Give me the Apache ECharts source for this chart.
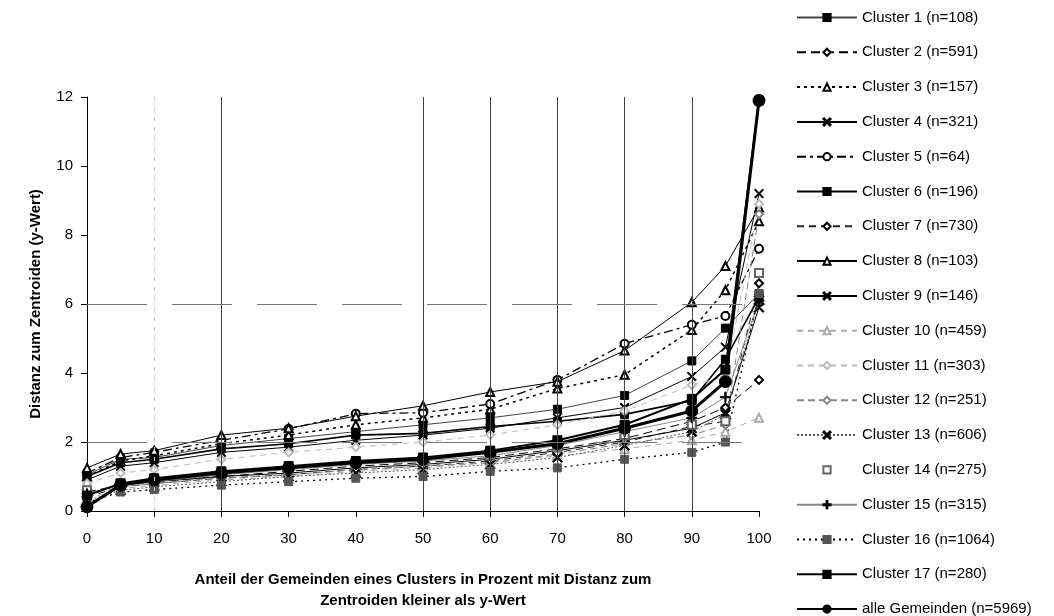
<!DOCTYPE html>
<html lang="de">
<head>
    <meta charset="UTF-8">
    <title>Distanz zum Zentroiden</title>
    <script src="https://cdn.jsdelivr.net/npm/echarts@6/dist/echarts.min.js"></script>
    <style type="text/css">
        html, body { margin: 0; padding: 0; background: #fff; }
        #chart { width: 1054px; height: 616px; }
    </style>
</head>
<body>
<div id="chart"></div>
<script type="text/javascript">
    // x: Anteil in Prozent, y: Distanz zum Zentroiden
    var xPct = [0, 5, 10, 20, 30, 40, 50, 60, 70, 80, 90, 95, 100];
    var xTicks = [0, 10, 20, 30, 40, 50, 60, 70, 80, 90, 100];
    var yTicks = [0, 2, 4, 6, 8, 10, 12];

    var cluster1  = [1.05, 1.5, 1.55, 1.9, 2.1, 2.3, 2.5, 2.7, 2.95, 3.35, 4.35, 5.3, 6.3];
    var cluster2  = [0.55, 0.75, 0.85, 1.0, 1.15, 1.3, 1.4, 1.55, 1.8, 2.1, 2.6, 3.0, 3.8];
    var cluster3  = [1.0, 1.45, 1.6, 1.95, 2.2, 2.5, 2.7, 2.95, 3.55, 3.95, 5.25, 6.4, 8.4];
    var cluster4  = [0.9, 1.3, 1.4, 1.7, 1.85, 2.05, 2.2, 2.4, 2.7, 3.0, 3.9, 4.75, 9.2];
    var cluster5  = [1.1, 1.55, 1.7, 2.05, 2.38, 2.82, 2.85, 3.1, 3.8, 4.85, 5.4, 5.65, 7.6];
    var cluster6  = [1.0, 1.4, 1.5, 1.8, 1.95, 2.2, 2.25, 2.45, 2.6, 2.8, 3.2, 4.4, 6.2];
    var cluster7  = [0.4, 0.7, 0.8, 0.95, 1.05, 1.2, 1.3, 1.45, 1.7, 2.0, 2.45, 2.6, 6.6];
    var cluster8  = [1.25, 1.65, 1.75, 2.2, 2.4, 2.75, 3.05, 3.45, 3.75, 4.65, 6.05, 7.1, 8.8];
    var cluster9  = [0.5, 0.75, 0.85, 1.0, 1.1, 1.25, 1.35, 1.5, 1.75, 2.05, 2.4, 2.85, 5.9];
    var cluster10 = [0.35, 0.65, 0.75, 0.9, 1.0, 1.15, 1.25, 1.4, 1.6, 1.8, 2.05, 2.3, 2.7];
    var cluster11 = [0.8, 1.1, 1.2, 1.5, 1.7, 1.85, 2.0, 2.2, 2.5, 2.9, 3.65, 3.9, 8.9];
    var cluster12 = [0.45, 0.7, 0.8, 0.95, 1.05, 1.2, 1.3, 1.4, 1.65, 1.95, 2.2, 2.5, 8.6];
    var cluster13 = [0.3, 0.6, 0.7, 0.85, 1.0, 1.1, 1.2, 1.35, 1.55, 1.9, 2.3, 2.8, 6.1];
    var cluster14 = [0.6, 0.8, 0.9, 1.05, 1.2, 1.35, 1.45, 1.6, 1.85, 2.2, 2.5, 2.6, 6.9];
    var cluster15 = [0.5, 0.75, 0.85, 1.05, 1.2, 1.35, 1.45, 1.6, 1.9, 2.3, 2.7, 3.3, 6.1];
    var cluster16 = [0.25, 0.55, 0.62, 0.75, 0.85, 0.95, 1.0, 1.15, 1.25, 1.5, 1.7, 2.0, 6.3];
    var cluster17 = [0.45, 0.8, 0.95, 1.15, 1.3, 1.45, 1.55, 1.75, 2.05, 2.5, 3.25, 4.1, 11.9];
    var alleGem   = [0.12, 0.75, 0.9, 1.1, 1.25, 1.4, 1.5, 1.7, 1.95, 2.4, 2.9, 3.75, 11.9];

    var gridX = [10, 20, 50, 60, 70, 80, 90];
    var gridY = [2, 6];

    var X_PATH = 'path://M0,1L1,0L5,4L9,0L10,1L6,5L10,9L9,10L5,6L1,10L0,9L4,5Z';
    var PLUS_PATH = 'path://M4.4,0H5.6V4.4H10V5.6H5.6V10H4.4V5.6H0V4.4H4.4Z';
    var FONT = '"Liberation Sans", Arial, sans-serif';

    function mk(name, vals, o) {
        var pts = [];
        for (var i = 0; i < xPct.length; i++) {
            pts.push([xPct[i], vals[i]]);
        }
        return {
            type: 'line',
            name: name,
            data: pts,
            z: 3,
            symbol: o.symbol,
            symbolSize: o.size || 8,
            showAllSymbol: true,
            itemStyle: {color: o.mColor || '#000', borderColor: o.mColor || '#000', borderWidth: 1},
            lineStyle: {color: o.color || '#000', width: o.width === undefined ? 1 : o.width, type: o.type || 'solid', opacity: o.noLine ? 0 : 1},
            emphasis: {disabled: true}
        };
    }

    var series = [
        mk('Cluster 1 (n=108)', cluster1, {symbol: 'rect', color: '#444'}),
        mk('Cluster 2 (n=591)', cluster2, {symbol: 'emptyDiamond', type: [9, 5]}),
        mk('Cluster 3 (n=157)', cluster3, {symbol: 'emptyTriangle', type: [3, 4], width: 1.5}),
        mk('Cluster 4 (n=321)', cluster4, {symbol: X_PATH, size: 9}),
        mk('Cluster 5 (n=64)', cluster5, {symbol: 'emptyCircle', type: [9, 4, 3, 4], width: 1.3}),
        mk('Cluster 6 (n=196)', cluster6, {symbol: 'rect', width: 1.6}),
        mk('Cluster 7 (n=730)', cluster7, {symbol: 'emptyDiamond', type: [7, 5], color: '#222'}),
        mk('Cluster 8 (n=103)', cluster8, {symbol: 'emptyTriangle'}),
        mk('Cluster 9 (n=146)', cluster9, {symbol: X_PATH, size: 10}),
        mk('Cluster 10 (n=459)', cluster10, {symbol: 'emptyTriangle', type: [6, 5], color: '#aaa', mColor: '#aaa'}),
        mk('Cluster 11 (n=303)', cluster11, {symbol: 'emptyDiamond', type: [6, 5], color: '#bbb', mColor: '#bbb'}),
        mk('Cluster 12 (n=251)', cluster12, {symbol: 'emptyDiamond', type: [7, 4], color: '#888', mColor: '#888'}),
        mk('Cluster 13 (n=606)', cluster13, {symbol: X_PATH, size: 10, type: [2, 2], color: '#555'}),
        mk('Cluster 14 (n=275)', cluster14, {symbol: 'emptyRect', mColor: '#666', noLine: true, width: 0}),
        mk('Cluster 15 (n=315)', cluster15, {symbol: PLUS_PATH, size: 10, color: '#888'}),
        mk('Cluster 16 (n=1064)', cluster16, {symbol: 'rect', type: [2, 4], width: 1.3, mColor: '#555'}),
        mk('Cluster 17 (n=280)', cluster17, {symbol: 'rect', size: 9, width: 2}),
        mk('alle Gemeinden (n=5969)', alleGem, {symbol: 'circle', size: 12, width: 3})
    ];

    var legendNames = [];
    for (var k = 0; k < series.length; k++) {
        legendNames.push(series[k].name);
    }

    // hilfslinien (gitter), wie im original nur teilweise
    var markX = [], markY = [];
    for (var a = 0; a < gridX.length; a++) {
        markX.push({xAxis: gridX[a], lineStyle: {color: gridX[a] == 10 ? '#ccc' : '#444', type: gridX[a] == 10 ? [4, 6] : 'solid', width: 1}});
    }
    for (var b = 0; b < gridY.length; b++) {
        markY.push({yAxis: gridY[b], lineStyle: {color: '#777', type: [60, 25], width: 1}});
    }
    series.unshift({
        type: 'line',
        name: '_grid',
        data: [],
        z: 1,
        silent: true,
        markLine: {
            silent: true,
            symbol: 'none',
            label: {show: false},
            data: markX.concat(markY)
        }
    });

    var myChart = echarts.init(document.getElementById('chart'));
    var option = {
        animation: false,
        backgroundColor: '#fff',
        textStyle: {fontFamily: FONT, color: '#000'},
        grid: {left: 87, right: 295, top: 97, bottom: 102},
        legend: {
            data: legendNames,
            orient: 'vertical',
            left: 796,
            top: 10,
            height: 614,
            padding: 0,
            itemWidth: 60,
            itemHeight: 9,
            itemGap: 19.8,
            textStyle: {fontFamily: FONT, fontSize: 15, color: '#000'},
            selectedMode: false
        },
        xAxis: {
            type: 'value',
            min: xTicks[0],
            max: xTicks[xTicks.length - 1],
            interval: 10,
            axisLine: {lineStyle: {color: '#000', width: 1}},
            axisTick: {show: true, length: 6, lineStyle: {color: '#000'}},
            axisLabel: {fontSize: 15, color: '#000', margin: 20, fontFamily: FONT},
            splitLine: {show: false},
            name: 'Anteil der Gemeinden eines Clusters in Prozent mit Distanz zum\nZentroiden kleiner als y-Wert',
            nameLocation: 'middle',
            nameGap: 58,
            nameTextStyle: {fontSize: 15, fontWeight: 'bold', color: '#000', lineHeight: 21, fontFamily: FONT}
        },
        yAxis: {
            type: 'value',
            min: yTicks[0],
            max: yTicks[yTicks.length - 1],
            interval: 2,
            axisLine: {show: true, lineStyle: {color: '#000', width: 1}},
            axisTick: {show: true, length: 6, lineStyle: {color: '#000'}},
            axisLabel: {fontSize: 15, color: '#000', margin: 14, fontFamily: FONT},
            splitLine: {show: false},
            name: 'Distanz zum Zentroiden (y-Wert)',
            nameLocation: 'middle',
            nameGap: 44,
            nameTextStyle: {fontSize: 15, fontWeight: 'bold', color: '#000', fontFamily: FONT}
        },
        series: series
    };
    myChart.setOption(option);
</script>
</body>
</html>
